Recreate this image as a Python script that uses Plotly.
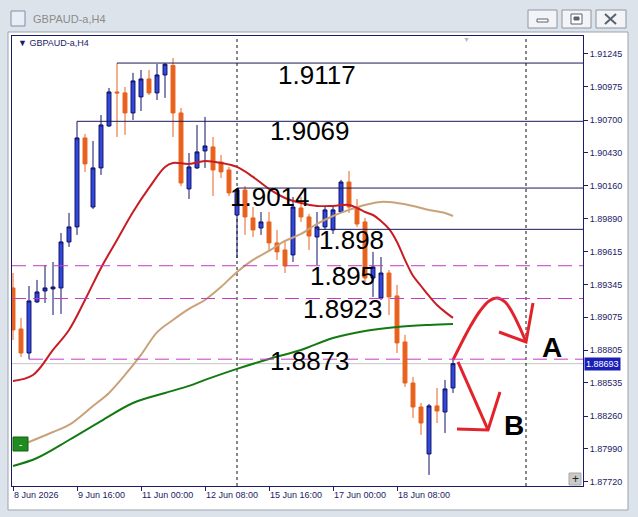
import plotly.graph_objects as go

# ---------------- data ----------------
BARS = list(range(56))
OPEN = [1.89317, 1.88979, 1.88781, 1.89202, 1.89292, 1.89309, 1.89317, 1.89696, 1.89820, 1.90553,
        1.89984, 1.90306, 1.90652, 1.90932, 1.90924, 1.90759, 1.90891, 1.91039, 1.90924, 1.91072,
        1.91150, 1.90759, 1.90133, 1.90306, 1.90446, 1.90479, 1.90355, 1.90289, 1.89918, 1.90124,
        1.89894, 1.89811, 1.89861, 1.89688, 1.89630, 1.89589, 1.89976, 1.89902, 1.89737, 1.89820,
        1.89795, 1.89943, 1.90190, 1.89984, 1.89861, 1.89399, 1.89235, 1.89440, 1.89251, 1.88872,
        1.88534, 1.88336, 1.87949, 1.88345, 1.88295, 1.88493]
HIGH = [1.89440, 1.89070, 1.89333, 1.89383, 1.89506, 1.89531, 1.89770, 1.89935, 1.90690, 1.90586,
        1.90528, 1.90742, 1.90965, 1.91170, 1.90973, 1.91089, 1.91113, 1.91113, 1.91163, 1.91170,
        1.91212, 1.90800, 1.90429, 1.90660, 1.90726, 1.90561, 1.90413, 1.90314, 1.90140, 1.90157,
        1.89984, 1.89943, 1.89943, 1.89795, 1.89712, 1.90067, 1.90067, 1.89927, 1.89943, 1.89984,
        1.89993, 1.90207, 1.90281, 1.90050, 1.89894, 1.89614, 1.89572, 1.89465, 1.89342, 1.88930,
        1.88584, 1.88369, 1.88361, 1.88493, 1.88559, 1.88724]
LOW = [1.88888, 1.88748, 1.88730, 1.89193, 1.89193, 1.89094, 1.89103, 1.89655, 1.89754, 1.90273,
       1.89968, 1.90248, 1.90644, 1.90561, 1.90578, 1.90701, 1.90775, 1.90907, 1.90866, 1.90883,
       1.90561, 1.90157, 1.90050, 1.90297, 1.90306, 1.90075, 1.90223, 1.90075, 1.89564, 1.89754,
       1.89737, 1.89754, 1.89630, 1.89548, 1.89440, 1.89531, 1.89861, 1.89630, 1.89506, 1.89795,
       1.89762, 1.89935, 1.89935, 1.89820, 1.89366, 1.89243, 1.89218, 1.89094, 1.88781, 1.88501,
       1.88246, 1.88106, 1.87776, 1.88204, 1.88122, 1.88452]
CLOSE = [1.88971, 1.88781, 1.89210, 1.89284, 1.89317, 1.89325, 1.89696, 1.89820, 1.90553, 1.90339,
         1.90306, 1.90660, 1.90932, 1.90924, 1.90759, 1.91023, 1.91039, 1.90924, 1.91072, 1.91160,
         1.90759, 1.90182, 1.90314, 1.90438, 1.90487, 1.90289, 1.90273, 1.90100, 1.90124, 1.89902,
         1.89795, 1.89861, 1.89688, 1.89614, 1.89498, 1.89984, 1.89902, 1.89745, 1.89820, 1.89960,
         1.89960, 1.90190, 1.89984, 1.89844, 1.89399, 1.89490, 1.89440, 1.89243, 1.88864, 1.88534,
         1.88336, 1.88204, 1.88345, 1.88303, 1.88485, 1.88693]

RED_X = [0, 2.5, 5, 7, 9, 11, 13, 15, 17, 19, 20, 22, 24, 26, 28, 30, 32, 34, 36, 38, 40, 42,
         43, 44, 45, 46, 47, 48, 49, 50, 51, 52, 53, 54, 55]
RED_Y = [1.88551, 1.88600, 1.88806, 1.88971, 1.89218, 1.89482, 1.89712, 1.89943, 1.90141, 1.90314,
         1.90347, 1.90339, 1.90363, 1.90347, 1.90314, 1.90232, 1.90133, 1.90058, 1.90017, 1.89993,
         1.89993, 1.90001, 1.89976, 1.89943, 1.89918, 1.89869, 1.89803, 1.89696, 1.89548, 1.89417,
         1.89333, 1.89251, 1.89177, 1.89120, 1.89070]
TAN_X = [0, 2, 5, 7, 10, 12, 14, 16, 18, 20, 22, 24, 26, 28, 30, 32, 34, 36, 38, 40, 42, 44,
         46, 48, 50, 52, 54, 55]
TAN_Y = [1.87999, 1.88048, 1.88130, 1.88188, 1.88344, 1.88452, 1.88600, 1.88765, 1.88951, 1.89053,
         1.89144, 1.89218, 1.89325, 1.89449, 1.89548, 1.89622, 1.89704, 1.89762, 1.89844, 1.89910,
         1.89960, 1.90001, 1.90026, 1.90017, 1.89993, 1.89960, 1.89935, 1.89910]
GREEN_X = [0, 3, 7, 11, 15, 19, 22, 24, 28, 32, 36, 40, 44, 48, 52, 55]
GREEN_Y = [1.87850, 1.87916, 1.88064, 1.88220, 1.88369, 1.88452, 1.88510, 1.88559, 1.88650,
           1.88732, 1.88806, 1.88905, 1.88963, 1.88995, 1.89012, 1.89020]

SOLID_LEVELS = [1.9117, 1.9069, 1.9014, 1.898]
SOLID_START = [13, 8, 28, 38]
DASH_LEVELS = [1.895, 1.8923, 1.8873]
DASH_START = [None, None, 2]
LEVEL_TEXT = ["1.9117", "1.9069", "1.9014", "1.898", "1.895", "1.8923", "1.8873"]

Y_TICKS = [1.91245, 1.90975, 1.90700, 1.90430, 1.90160, 1.89890, 1.89615, 1.89345,
           1.89075, 1.88805, 1.88535, 1.88260, 1.87990, 1.87720]
X_TICK_BARS = [0, 8, 16, 24, 32, 40, 48]
X_TICK_TEXT = ["8 Jun 2026", "9 Jun 16:00", "11 Jun 00:00", "12 Jun 08:00",
               "15 Jun 16:00", "17 Jun 00:00", "18 Jun 08:00"]
VLINES = [28, 64.125]

ARROW_A_X = [55, 56.125, 57.125, 58.375, 59.5, 60.5, 61.5, 62.375, 63.25, 64.125]
ARROW_A_Y = [1.88724, 1.88872, 1.88996, 1.89127, 1.89210, 1.89234, 1.89202, 1.89119, 1.89004, 1.88872]
ARROW_A_HEAD_X = [65.0, 64.125, 60.75]
ARROW_A_HEAD_Y = [1.89193, 1.88872, 1.88954]
ARROW_B_X = [55.625, 59.375]
ARROW_B_Y = [1.88707, 1.88147]
ARROW_B_HEAD_X = [60.875, 59.375, 55.5]
ARROW_B_HEAD_Y = [1.88460, 1.88147, 1.88155]

# ---------------- layout geometry ----------------
W, H = 638, 517
L, R, T, B = 12, 583, 36, 486
X_RANGE = [-0.125, 71.25]
Y_RANGE = [1.87685, 1.91393]


def px(x):
    return (x - L) / (R - L)


def py(y):
    return (B - y) / (B - T)


NAVY = "#1b1b66"
BLUE = "#3048dc"
ORANGE = "#e8621e"
FONT = "Liberation Sans, Arial, sans-serif"

fig = go.Figure()

fig.add_trace(go.Candlestick(
    x=BARS, open=OPEN, high=HIGH, low=LOW, close=CLOSE,
    increasing=dict(line=dict(color="#10106a", width=1), fillcolor=BLUE),
    decreasing=dict(line=dict(color=ORANGE, width=1), fillcolor=ORANGE),
    whiskerwidth=0, showlegend=False, hoverinfo="skip"))

fig.add_trace(go.Scatter(x=GREEN_X, y=GREEN_Y, mode="lines", line=dict(color="#137a13", width=2, shape="spline"),
                         showlegend=False, hoverinfo="skip"))
fig.add_trace(go.Scatter(x=TAN_X, y=TAN_Y, mode="lines", line=dict(color="#c9a27a", width=2, shape="spline"),
                         showlegend=False, hoverinfo="skip"))
fig.add_trace(go.Scatter(x=RED_X, y=RED_Y, mode="lines", line=dict(color="#c81c22", width=2, shape="spline"),
                         showlegend=False, hoverinfo="skip"))

RED_ARROW = "#e3232b"
fig.add_trace(go.Scatter(x=ARROW_A_X, y=ARROW_A_Y, mode="lines",
                         line=dict(color=RED_ARROW, width=3, shape="spline"), showlegend=False, hoverinfo="skip"))
fig.add_trace(go.Scatter(x=ARROW_A_HEAD_X, y=ARROW_A_HEAD_Y, mode="lines",
                         line=dict(color=RED_ARROW, width=3), showlegend=False, hoverinfo="skip"))
fig.add_trace(go.Scatter(x=ARROW_B_X, y=ARROW_B_Y, mode="lines",
                         line=dict(color=RED_ARROW, width=3), showlegend=False, hoverinfo="skip"))
fig.add_trace(go.Scatter(x=ARROW_B_HEAD_X, y=ARROW_B_HEAD_Y, mode="lines",
                         line=dict(color=RED_ARROW, width=3), showlegend=False, hoverinfo="skip"))

shapes = []
# window chrome
shapes.append(dict(type="rect", xref="paper", yref="paper", x0=px(0), x1=px(W), y0=py(H), y1=py(0),
                   fillcolor="#dde3ea", line=dict(width=0), layer="below"))
shapes.append(dict(type="rect", xref="paper", yref="paper", x0=px(8), x1=px(628), y0=py(510), y1=py(32),
                   fillcolor="white", line=dict(color="#9aa3b0", width=1), layer="below"))
for bx0, bx1 in [(528, 557), (562, 591), (596, 626)]:
    shapes.append(dict(type="rect", xref="paper", yref="paper", x0=px(bx0), x1=px(bx1), y0=py(28), y1=py(10),
                       fillcolor="#f2f4f7", line=dict(color="#8e96a3", width=1), layer="below"))
# button glyphs
shapes.append(dict(type="rect", xref="paper", yref="paper", x0=px(537), x1=px(548), y0=py(22), y1=py(19),
                   fillcolor="white", line=dict(color="#5a6270", width=1)))
shapes.append(dict(type="rect", xref="paper", yref="paper", x0=px(571), x1=px(582), y0=py(24), y1=py(14),
                   fillcolor="white", line=dict(color="#5a6270", width=1)))
shapes.append(dict(type="rect", xref="paper", yref="paper", x0=px(574), x1=px(579), y0=py(20), y1=py(17),
                   fillcolor="#5a6270", line=dict(color="#5a6270", width=1)))
shapes.append(dict(type="line", xref="paper", yref="paper", x0=px(605), x1=px(616), y0=py(14), y1=py(24),
                   line=dict(color="#5a6270", width=2)))
shapes.append(dict(type="line", xref="paper", yref="paper", x0=px(605), x1=px(616), y0=py(24), y1=py(14),
                   line=dict(color="#5a6270", width=2)))
# title icon
shapes.append(dict(type="rect", xref="paper", yref="paper", x0=px(11), x1=px(25), y0=py(26), y1=py(11),
                   fillcolor="#e8eef6", line=dict(color="#7f8fa8", width=1), layer="below"))

# current price line
shapes.append(dict(type="line", xref="paper", yref="y", x0=0, x1=1, y0=CLOSE[-1], y1=CLOSE[-1],
                   line=dict(color="#c4c4c4", width=1), layer="below"))
# vertical dotted lines
for v in VLINES:
    shapes.append(dict(type="line", xref="x", yref="paper", x0=v, x1=v, y0=0, y1=1,
                       line=dict(color="#111111", width=1, dash="3px,3px"), layer="below"))
# solid levels
for lvl, st in zip(SOLID_LEVELS, SOLID_START):
    shapes.append(dict(type="line", xref="x", yref="y", x0=st, x1=X_RANGE[1], y0=lvl, y1=lvl,
                       line=dict(color="#1a1a5a", width=1)))
# dashed levels
for lvl, st in zip(DASH_LEVELS, DASH_START):
    shapes.append(dict(type="line", xref="x", yref="y", x0=X_RANGE[0] if st is None else st, x1=X_RANGE[1],
                       y0=lvl, y1=lvl, line=dict(color="#c43cc4", width=1, dash="14px,7px")))
# green "-" box and "+" box
shapes.append(dict(type="rect", xref="paper", yref="paper", x0=px(13), x1=px(28), y0=py(451), y1=py(437),
                   fillcolor="#1e8c1e", line=dict(color="#136013", width=1)))
shapes.append(dict(type="rect", xref="paper", yref="paper", x0=px(569), x1=px(581), y0=py(485), y1=py(473),
                   fillcolor="#cacaca", line=dict(color="#a8a8a8", width=1)))

ann = []
ann.append(dict(xref="paper", yref="paper", x=px(31), y=py(19), text="GBPAUD-a,H4", showarrow=False,
                xanchor="left", yanchor="middle", font=dict(family=FONT, size=11, color="#8c8c8c")))
ann.append(dict(xref="paper", yref="paper", x=px(16), y=py(43), text="▼ GBPAUD-a,H4", showarrow=False,
                xanchor="left", yanchor="middle", font=dict(family=FONT, size=9, color=NAVY)))
ann.append(dict(xref="paper", yref="paper", x=px(466), y=py(40), text="▼", showarrow=False,
                xanchor="center", yanchor="middle", font=dict(family=FONT, size=7, color="#b4b4cc")))
ann.append(dict(xref="paper", yref="paper", x=px(20.5), y=py(444), text="-", showarrow=False,
                xanchor="center", yanchor="middle", font=dict(family=FONT, size=10, color="white")))
ann.append(dict(xref="paper", yref="paper", x=px(575), y=py(479), text="+", showarrow=False,
                xanchor="center", yanchor="middle", font=dict(family=FONT, size=12, color="#222222")))

LABEL_POS = [(317, 75), (310, 131), (270, 197), (351, 240), (342, 276), (343, 309), (310, 361)]
for txt, (lx, ly) in zip(LEVEL_TEXT, LABEL_POS):
    ann.append(dict(xref="paper", yref="paper", x=px(lx), y=py(ly), text=txt, showarrow=False,
                    xanchor="center", yanchor="middle", font=dict(family=FONT, size=26, color="black")))
ann.append(dict(xref="paper", yref="paper", x=px(552), y=py(347), text="<b>A</b>", showarrow=False,
                xanchor="center", yanchor="middle", font=dict(family=FONT, size=28, color="black")))
ann.append(dict(xref="paper", yref="paper", x=px(514), y=py(425), text="<b>B</b>", showarrow=False,
                xanchor="center", yanchor="middle", font=dict(family=FONT, size=28, color="black")))
# current price tag
ann.append(dict(xref="paper", yref="y", x=1.0, y=CLOSE[-1], text=f"{CLOSE[-1]:.5f}", showarrow=False,
                xanchor="left", yanchor="middle", xshift=1, bgcolor="#1a1fb8", borderpad=1,
                font=dict(family=FONT, size=9, color="white")))

fig.update_layout(
    width=W, height=H,
    margin=dict(l=L, r=W - R, t=T, b=H - B, pad=0),
    paper_bgcolor="#dde3ea", plot_bgcolor="white",
    shapes=shapes, annotations=ann, showlegend=False,
    xaxis=dict(range=X_RANGE, rangeslider=dict(visible=False), showgrid=False, zeroline=False,
               showline=True, mirror=True, linecolor=NAVY, linewidth=1,
               tickmode="array", tickvals=X_TICK_BARS, ticktext=X_TICK_TEXT,
               ticks="outside", ticklen=4, tickcolor=NAVY, ticklabelposition="outside right",
               tickfont=dict(family=FONT, size=9, color=NAVY)),
    yaxis=dict(range=Y_RANGE, side="right", showgrid=False, zeroline=False,
               showline=True, mirror=True, linecolor=NAVY, linewidth=1,
               tickmode="array", tickvals=Y_TICKS, ticktext=[f"{v:.5f}" for v in Y_TICKS],
               ticks="outside", ticklen=4, tickcolor=NAVY,
               tickfont=dict(family=FONT, size=9, color=NAVY)),
)

fig.write_html("out.html", config={"displayModeBar": False, "staticPlot": True},
               post_script="document.body.style.margin='0';document.body.style.overflow='hidden';")
